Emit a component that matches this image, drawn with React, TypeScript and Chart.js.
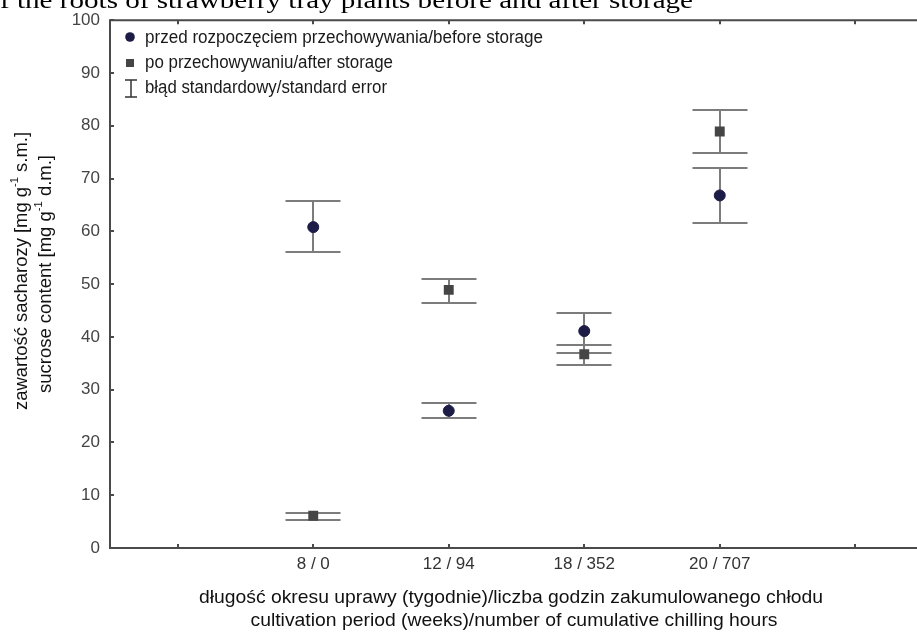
import React, { useEffect, useRef } from 'react';
import { Chart, registerables } from 'chart.js';

Chart.register(...registerables);

// ---- data ----
const categories = ['8 / 0', '12 / 94', '18 / 352', '20 / 707'];
const xTickLabels = ['', ...categories, ''];
const beforeValues = [60.8, 26.0, 41.1, 66.8];
const beforeLow = [56.0, 24.6, 36.9, 61.6];
const beforeHigh = [65.8, 27.4, 44.6, 72.0];
const afterValues = [6.1, 48.9, 36.7, 78.9];
const afterLow = [5.3, 46.5, 34.7, 74.9];
const afterHigh = [6.7, 51.0, 38.5, 82.9];
const yTickValues = [0, 10, 20, 30, 40, 50, 60, 70, 80, 90, 100];

const legendLabels = [
  'przed rozpoczęciem przechowywania/before storage',
  'po przechowywaniu/after storage',
  'błąd standardowy/standard error',
];
const titleText = 'of the roots of strawberry tray plants before and after storage';
const xTitle1 = 'długość okresu uprawy (tygodnie)/liczba godzin zakumulowanego chłodu';
const xTitle2 = 'cultivation period (weeks)/number of cumulative chilling hours';
const yTitle1 = [{ t: 'zawartość sacharozy [mg g' }, { t: '-1', sup: true }, { t: ' s.m.]' }];
const yTitle2 = [{ t: 'sucrose content [mg g' }, { t: '-1', sup: true }, { t: ' d.m.]' }];

const SANS = '"Liberation Sans", Arial, sans-serif';
const SERIF = '"Liberation Serif", "Times New Roman", serif';
const CIRCLE_COLOR = '#1c1c46';
const SQUARE_COLOR = '#454545';
const ERR_COLOR = '#7c7c7c';
const AXIS_COLOR = '#4a4a4a';

function fitText(ctx: CanvasRenderingContext2D, text: string, x: number, y: number, width: number,
  size: number, color: string, align: CanvasTextAlign = 'left', family = SANS) {
  ctx.save();
  ctx.font = `${size}px ${family}`;
  ctx.fillStyle = color;
  ctx.textBaseline = 'middle';
  const w = ctx.measureText(text).width;
  const s = width / w;
  ctx.translate(x, y);
  ctx.scale(s, 1);
  ctx.textAlign = align;
  ctx.fillText(text, 0, 0);
  ctx.restore();
}

function richText(ctx: CanvasRenderingContext2D, parts: { t: string; sup?: boolean }[], width: number, size: number, color: string) {
  const supSize = Math.round(size * 0.6);
  let total = 0;
  const widths: number[] = [];
  for (const p of parts) {
    ctx.font = `${p.sup ? supSize : size}px ${SANS}`;
    const w = ctx.measureText(p.t).width;
    widths.push(w);
    total += w;
  }
  const s = width / total;
  ctx.save();
  ctx.scale(s, 1);
  ctx.fillStyle = color;
  ctx.textBaseline = 'middle';
  ctx.textAlign = 'left';
  let x = -total / 2;
  parts.forEach((p, i) => {
    ctx.font = `${p.sup ? supSize : size}px ${SANS}`;
    ctx.fillText(p.t, x, p.sup ? -size * 0.38 : 0);
    x += widths[i];
  });
  ctx.restore();
}

const decorPlugin = {
  id: 'decor',
  beforeDatasetsDraw(chart: any) {
    const ctx: CanvasRenderingContext2D = chart.ctx;
    const xs = chart.scales.x;
    const ys = chart.scales.y;
    const cap = 27.5;
    const sets = [
      { lo: beforeLow, hi: beforeHigh },
      { lo: afterLow, hi: afterHigh },
    ];
    ctx.save();
    ctx.strokeStyle = ERR_COLOR;
    ctx.lineWidth = 2;
    sets.forEach((s) => {
      s.lo.forEach((lo, i) => {
        const px = Math.round(xs.getPixelForValue(i + 1));
        const yl = Math.round(ys.getPixelForValue(lo));
        const yh = Math.round(ys.getPixelForValue(s.hi[i]));
        ctx.beginPath();
        ctx.moveTo(px, yl);
        ctx.lineTo(px, yh);
        ctx.moveTo(px - cap, yl);
        ctx.lineTo(px + cap, yl);
        ctx.moveTo(px - cap, yh);
        ctx.lineTo(px + cap, yh);
        ctx.stroke();
      });
    });
    ctx.restore();
  },
  afterDraw(chart: any) {
    const ctx: CanvasRenderingContext2D = chart.ctx;
    const { left, right, top, bottom } = chart.chartArea;
    const xs = chart.scales.x;
    const ys = chart.scales.y;
    ctx.save();
    // frame
    ctx.strokeStyle = AXIS_COLOR;
    ctx.lineWidth = 2;
    ctx.beginPath();
    ctx.moveTo(left, top);
    ctx.lineTo(right + 10, top);
    ctx.moveTo(left, top - 1);
    ctx.lineTo(left, bottom + 1);
    ctx.moveTo(left - 1, bottom);
    ctx.lineTo(right + 10, bottom);
    ctx.stroke();
    // inward ticks
    ctx.beginPath();
    xs.ticks.forEach((t: any) => {
      const px = Math.round(xs.getPixelForValue(t.value));
      ctx.moveTo(px, bottom);
      ctx.lineTo(px, bottom - 4);
      ctx.moveTo(px, top);
      ctx.lineTo(px, top + 4);
    });
    ys.ticks.forEach((t: any) => {
      const py = Math.round(ys.getPixelForValue(t.value));
      ctx.moveTo(left, py);
      ctx.lineTo(left + 4, py);
    });
    ctx.stroke();

    // legend
    ctx.fillStyle = CIRCLE_COLOR;
    ctx.beginPath();
    ctx.arc(130, 37, 4.8, 0, Math.PI * 2);
    ctx.fill();
    ctx.fillStyle = SQUARE_COLOR;
    ctx.fillRect(126, 59, 8, 8);
    ctx.strokeStyle = '#333';
    ctx.lineWidth = 1.5;
    ctx.beginPath();
    ctx.moveTo(131, 80);
    ctx.lineTo(131, 97);
    ctx.moveTo(125, 80);
    ctx.lineTo(137, 80);
    ctx.moveTo(125, 97);
    ctx.lineTo(137, 97);
    ctx.stroke();
    fitText(ctx, legendLabels[0], 145, 38, 398, 17.5, '#1a1a1a');
    fitText(ctx, legendLabels[1], 145, 63, 248, 17.5, '#1a1a1a');
    fitText(ctx, legendLabels[2], 145, 88, 242, 17.5, '#1a1a1a');

    // x title
    fitText(ctx, xTitle1, 511, 598, 624, 19, '#111', 'center');
    fitText(ctx, xTitle2, 514, 621, 527, 19, '#111', 'center');

    // y title
    ctx.save();
    ctx.translate(22, 271);
    ctx.rotate(-Math.PI / 2);
    richText(ctx, yTitle1, 278, 18, '#111');
    ctx.restore();
    ctx.save();
    ctx.translate(46, 274);
    ctx.rotate(-Math.PI / 2);
    richText(ctx, yTitle2, 238, 18, '#111');
    ctx.restore();

    // top (cropped) title
    ctx.save();
    ctx.font = `24px ${SERIF}`;
    ctx.fillStyle = '#000';
    ctx.textBaseline = 'alphabetic';
    const partial = titleText.slice(1);
    const s = 693 / ctx.measureText(partial).width;
    ctx.translate(693, 8);
    ctx.scale(s, 1);
    ctx.textAlign = 'right';
    ctx.fillText(titleText, 0, 0);
    ctx.restore();

    ctx.restore();
  },
};

export default function App() {
  const ref = useRef<HTMLCanvasElement>(null);
  useEffect(() => {
    if (!ref.current) return;
    const chart = new Chart(ref.current, {
      type: 'scatter',
      data: {
        datasets: [
          {
            label: legendLabels[0],
            data: beforeValues.map((v, i) => ({ x: i + 1, y: v })),
            pointStyle: 'circle',
            pointRadius: 5.5,
            pointBorderWidth: 1,
            backgroundColor: CIRCLE_COLOR,
            borderColor: CIRCLE_COLOR,
          },
          {
            label: legendLabels[1],
            data: afterValues.map((v, i) => ({ x: i + 1, y: v })),
            pointStyle: 'rect',
            pointRadius: 7,
            pointBorderWidth: 0,
            backgroundColor: SQUARE_COLOR,
            borderColor: SQUARE_COLOR,
          },
        ],
      },
      options: {
        animation: false,
        responsive: false,
        maintainAspectRatio: false,
        layout: { padding: { top: 17, right: 1, left: 0, bottom: 0 } },
        plugins: { legend: { display: false }, tooltip: { enabled: false }, title: { display: false } },
        scales: {
          x: {
            type: 'linear',
            min: -0.5,
            max: 5.5,
            grid: { display: false, drawTicks: false },
            border: { display: false },
            afterBuildTicks: (scale: any) => {
              scale.ticks = xTickLabels.map((_, i) => ({ value: i }));
            },
            afterFit: (scale: any) => {
              scale.height = 84;
            },
            ticks: {
              autoSkip: false,
              maxRotation: 0,
              padding: 6,
              color: '#333',
              font: { family: SANS, size: 17 },
              callback: (v: any) => xTickLabels[Math.round(Number(v))] ?? '',
            },
          },
          y: {
            min: 0,
            max: 100,
            grid: { display: false, drawTicks: false },
            border: { display: false },
            afterBuildTicks: (scale: any) => {
              scale.ticks = yTickValues.map((v) => ({ value: v }));
            },
            afterFit: (scale: any) => {
              scale.width = 110;
            },
            ticks: {
              padding: 10,
              color: '#444',
              font: { family: SANS, size: 17 },
              callback: (v: any) => String(v),
            },
          },
        },
      },
      plugins: [decorPlugin],
    });
    return () => chart.destroy();
  }, []);
  return (
    <div style={{ position: 'fixed', left: 0, top: 0, width: 917, height: 632, overflow: 'hidden', background: '#fff' }}>
      <canvas ref={ref} width={930} height={632} style={{ position: 'absolute', left: 0, top: 0, width: 930, height: 632 }} />
    </div>
  );
}
